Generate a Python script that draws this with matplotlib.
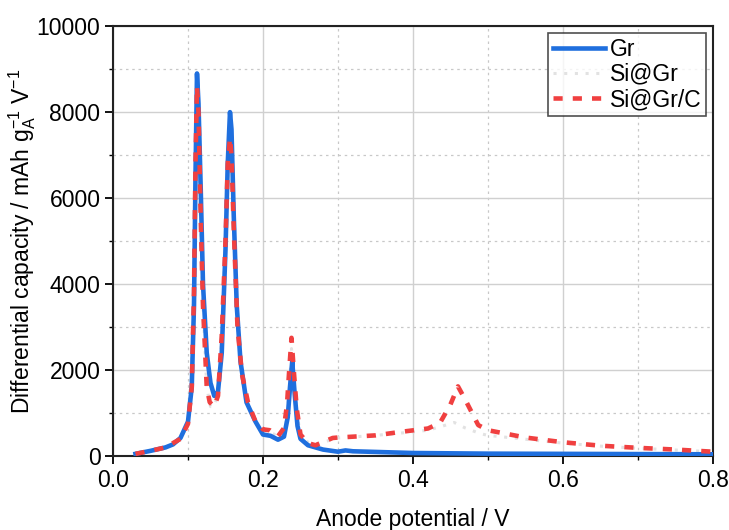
import numpy as np
import matplotlib
matplotlib.use("Agg")
import matplotlib.pyplot as plt
from matplotlib.ticker import MultipleLocator

plt.rcParams['font.family'] = ['Liberation Sans', 'DejaVu Sans']
plt.rcParams['mathtext.fontset'] = 'custom'
plt.rcParams['mathtext.rm'] = 'Liberation Sans'
plt.rcParams['mathtext.it'] = 'Liberation Sans:italic'

# Gr
gr_v = [0.030, 0.050, 0.070, 0.080, 0.090, 0.100, 0.105, 0.108, 0.110, 0.112,
        0.114, 0.117, 0.120, 0.125, 0.130, 0.135, 0.140, 0.145, 0.150, 0.153,
        0.156, 0.158, 0.161, 0.165, 0.170, 0.178, 0.190, 0.200, 0.210, 0.220,
        0.228, 0.233, 0.236, 0.239, 0.242, 0.246, 0.250, 0.260, 0.280, 0.300,
        0.310, 0.320, 0.400, 0.500, 0.600, 0.700, 0.800]
gr_q = [50, 120, 200, 270, 420, 800, 1600, 3500, 6500, 8900,
        8200, 6200, 4000, 2400, 1700, 1400, 1500, 2400, 4800, 6800,
        8000, 7600, 5600, 3500, 2200, 1250, 800, 500, 470, 380,
        450, 900, 1600, 2200, 1500, 700, 400, 250, 150, 100,
        130, 110, 70, 55, 50, 45, 40]

# Si@Gr (faint dotted)
sigr_v = [0.030, 0.070, 0.090, 0.100, 0.106, 0.110, 0.112, 0.115, 0.120, 0.125,
          0.130, 0.135, 0.140, 0.146, 0.150, 0.154, 0.157, 0.161, 0.166, 0.172,
          0.180, 0.190, 0.200, 0.210, 0.220, 0.230, 0.235, 0.238, 0.242, 0.246,
          0.250, 0.260, 0.270, 0.290, 0.300, 0.350, 0.400, 0.420, 0.440, 0.455,
          0.470, 0.490, 0.500, 0.550, 0.600, 0.650, 0.700, 0.750, 0.800]
sigr_q = [50, 190, 400, 750, 2500, 6500, 8300, 6500, 3500, 1600,
          1150, 1150, 1450, 3000, 5200, 7000, 7200, 5500, 3000, 1800,
          1200, 800, 600, 560, 450, 650, 1500, 2500, 1600, 900,
          500, 320, 280, 370, 420, 480, 560, 600, 700, 780,
          650, 520, 480, 390, 300, 230, 180, 140, 100]

# Si@Gr/C
sigrc_v = [0.030, 0.050, 0.070, 0.090, 0.100, 0.105, 0.108, 0.110, 0.112, 0.114,
           0.117, 0.120, 0.125, 0.129, 0.135, 0.140, 0.145, 0.150, 0.153, 0.156,
           0.158, 0.161, 0.166, 0.172, 0.180, 0.190, 0.200, 0.209, 0.220, 0.228,
           0.232, 0.235, 0.238, 0.241, 0.245, 0.250, 0.260, 0.270, 0.293, 0.300,
           0.350, 0.383, 0.420, 0.436, 0.450, 0.460, 0.470, 0.487, 0.500, 0.550,
           0.600, 0.650, 0.700, 0.750, 0.800]
sigrc_q = [50, 120, 200, 400, 750, 1600, 3800, 6800, 8600, 8000,
           5500, 3500, 1600, 1250, 1150, 1400, 2800, 5000, 6800, 7400,
           7000, 5300, 3000, 1900, 1250, 800, 620, 600, 460, 650,
           1200, 2000, 2750, 2000, 1100, 500, 300, 250, 420, 430,
           480, 560, 640, 770, 1200, 1620, 1300, 720, 600, 430,
           320, 240, 190, 150, 100]

fig = plt.figure(figsize=(7.29, 5.30), dpi=100)
ax = fig.add_axes([0.155, 0.1396, 0.823, 0.811])

ax.plot(gr_v, gr_q, color='#1f6fde', lw=3.3, label='Gr', zorder=3,
        solid_joinstyle='round')
ax.plot(sigr_v, sigr_q, color='#e2e2e2', lw=2.2, ls=(0, (1, 2.5)),
        label='Si@Gr', zorder=2)
ax.plot(sigrc_v, sigrc_q, color='#f04040', lw=3.3, ls=(0, (2, 2.2)),
        label='Si@Gr/C', zorder=4)

ax.set_xlim(0, 0.8)
ax.set_ylim(0, 10000)
ax.xaxis.set_major_locator(MultipleLocator(0.2))
ax.xaxis.set_minor_locator(MultipleLocator(0.1))
ax.yaxis.set_major_locator(MultipleLocator(2000))
ax.yaxis.set_minor_locator(MultipleLocator(1000))
ax.set_xticks([0.0, 0.2, 0.4, 0.6, 0.8])
ax.set_xticklabels(['0.0', '0.2', '0.4', '0.6', '0.8'])

ax.grid(True, which='major', color='#d0d0d0', lw=1.0, ls='-')
ax.grid(True, which='minor', color='#c8c8c8', lw=0.9, ls=(0, (2, 3)))
ax.set_axisbelow(True)

for s in ax.spines.values():
    s.set_linewidth(1.5)
    s.set_color('#222222')

ax.tick_params(which='major', direction='out', length=6, width=1.3,
               labelsize=16.5, top=False, right=False, pad=3)
ax.tick_params(which='minor', direction='out', length=3, width=1.0,
               top=False, right=False)

ax.set_xlabel('Anode potential / V', fontsize=16.5, labelpad=12)
ax.set_ylabel('Differential capacity / mAh g$_\\mathregular{A}^\\mathregular{-1}$ V$^\\mathregular{-1}$',
              fontsize=16.5, labelpad=-1)

leg = ax.legend(loc='upper right', fontsize=16.5, frameon=True, fancybox=False,
                edgecolor='#222222', handlelength=2.3, borderpad=0.2,
                labelspacing=0.1, handletextpad=0.2, borderaxespad=0.3)
leg.get_frame().set_linewidth(1.2)

fig.savefig('out.png', dpi=100)
